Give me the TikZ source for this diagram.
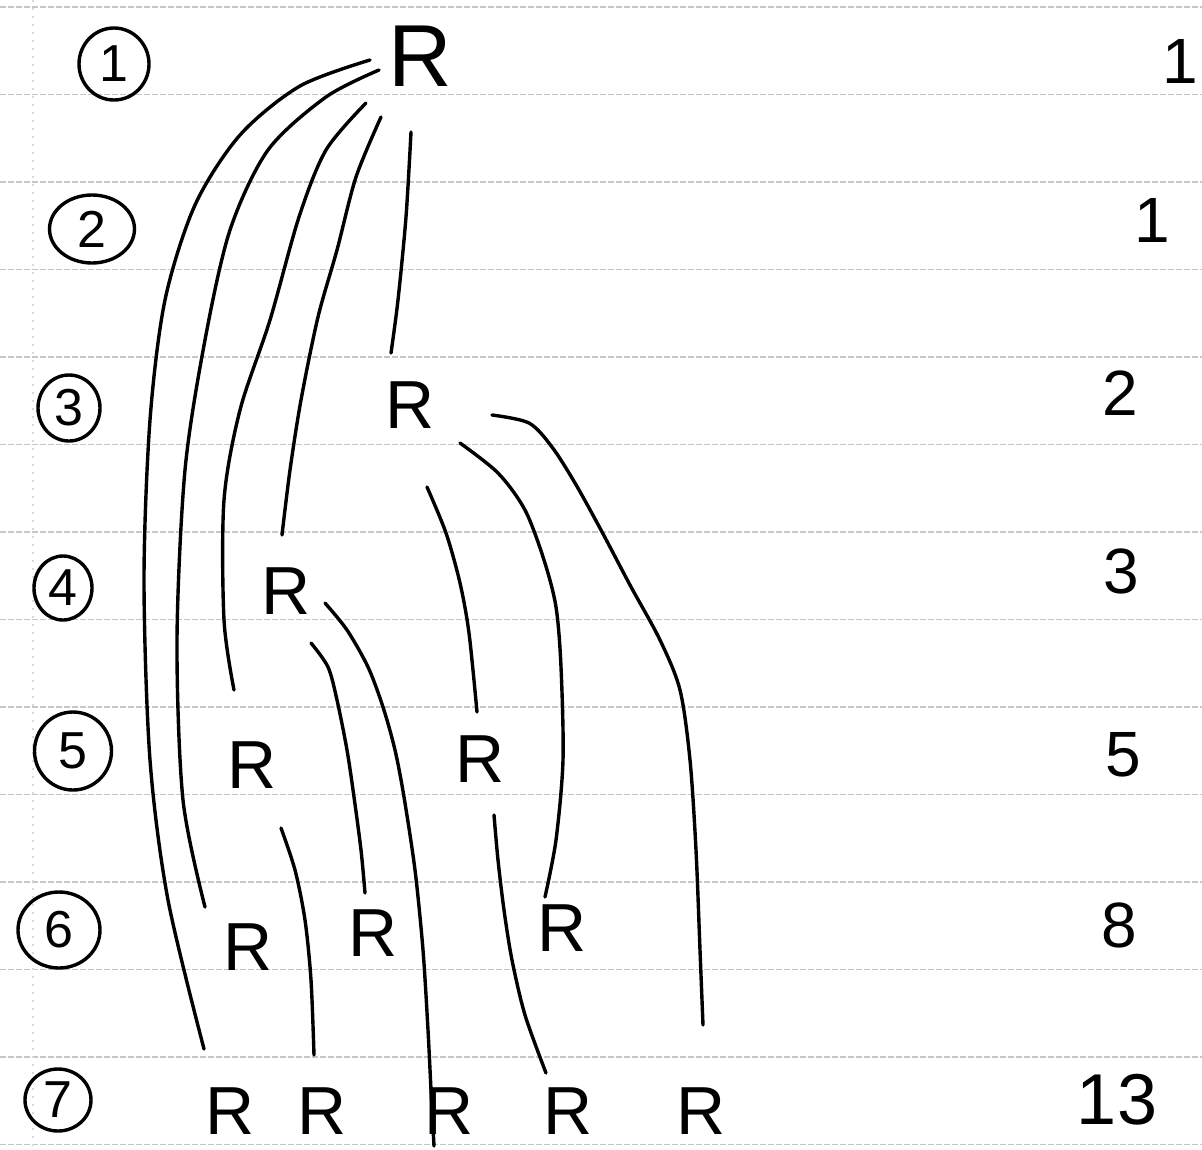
\documentclass[tikz,border=0pt]{standalone}
\usepackage{fontspec}
\setmainfont{Liberation Sans}
\usetikzlibrary{shapes.geometric}

\begin{document}
\begin{tikzpicture}[x=1pt,y=-1pt,
  rule/.style={gray!45, line width=1.2pt, dash pattern=on 6pt off 2pt},
  pen/.style={line width=3.4pt, line cap=round, line join=round},
  rabbit/.style={inner sep=0pt, font=\fontsize{68}{68}\selectfont},
  gen/.style={draw, pen, ellipse, inner sep=0pt, font=\fontsize{52}{52}\selectfont},
  count/.style={inner sep=0pt, font=\fontsize{64}{64}\selectfont}]
  \useasboundingbox (0,0) rectangle (1202,1149);
  \fill[white] (0,0) rectangle (1202,1149);
  % ruled paper
  \foreach \i in {0,...,13}
    \draw[rule] (0,7+87.5*\i) -- (1202,7+87.5*\i);
  \draw[gray!30, line width=1.2pt, dash pattern=on 2pt off 6pt] (33,0) -- (33,1149);

  % generations and totals
  \foreach \n/\x/\y/\w/\h in {1/114/64/70/72, 2/92/229/85/68, 3/69/408/62/66,
      4/63/588/58/64, 5/73/751/77/78, 6/59/930/82/76, 7/58/1100/66/62}
    \node[gen, minimum width=\w, minimum height=\h] (g\n) at (\x,\y) {\n};
  \foreach \n/\x/\y/\v in {1/1180/61/1, 2/1152/220/1, 3/1120/393/2,
      4/1121/571/3, 5/1123/755/5, 6/1119/925/8}
    \node[count] (t\n) at (\x,\y) {\v};
  \node[count, font=\fontsize{72}{72}\selectfont] (t7) at (1117,1100) {13};

  % rabbit pairs
  \node[rabbit, font=\fontsize{88}{88}\selectfont] (R1) at (420,56) {R};
  \node[rabbit] (R3) at (410,405) {R};
  \node[rabbit] (R4) at (286,591) {R};
  \node[rabbit] (R5a) at (252,765) {R};
  \node[rabbit] (R5b) at (480,759) {R};
  \node[rabbit] (R6a) at (248,947) {R};
  \node[rabbit] (R6b) at (373,933) {R};
  \node[rabbit] (R6c) at (562,928) {R};
  \foreach \n/\x in {a/230,b/322,c/449,d/568,e/701}
    \node[rabbit] (R7\n) at (\x,1111) {R};

  % offspring lines
  \draw[pen] plot[smooth] coordinates {([shift={(-50,4)}]R1.center) (300,86) (240,135)
    (195,205) (165,300) (150,420) (144,580) (150,760) (168,900) ([shift={(-26,-62)}]R7a.center)};
  \draw[pen] plot[smooth] coordinates {([shift={(-41,14)}]R1.center) (326,97) (268,150)
    (230,230) (205,340) (185,470) (177,640) (183,800) ([shift={(-43,-40)}]R6a.center)};
  \draw[pen] plot[smooth] coordinates {([shift={(-54,47)}]R1.center) (326,150) (299,217)
    (270,320) (240,410) (224,500) (224,620) ([shift={(-18,-75)}]R5a.center)};
  \draw[pen] plot[smooth] coordinates {([shift={(-39,61)}]R1.center) (356,177) (337,250)
    (318,317) (301,400) (290,470) ([shift={(-4,-56)}]R4.center)};
  \draw[pen] plot[smooth] coordinates {([shift={(-9,76)}]R1.center) (406,217) (398,300)
    ([shift={(-19,-52)}]R3.center)};
  \draw[pen] plot[smooth] coordinates {([shift={(82,10)}]R3.center) (529,423) (552,447)
    (575,483) (601,530) (630,585) (660,640) (680,690) (690,760) (696,850) (700,950)
    ([shift={(2,-86)}]R7e.center)};
  \draw[pen] plot[smooth] coordinates {([shift={(50,38)}]R3.center) (498,473) (525,510)
    (544,560) (556,607) (561,667) (563,760) (556,840) ([shift={(-17,-31)}]R6c.center)};
  \draw[pen] plot[smooth] coordinates {([shift={(17,82)}]R3.center) (446,533) (460,583)
    (469,633) ([shift={(-3,-47)}]R5b.center)};
  \draw[pen] plot[smooth] coordinates {([shift={(39,12)}]R4.center) (347,630) (368,667)
    (383,707) (395,750) (404,797) (415,870) (423,950) (428,1030) (431,1090)
    ([shift={(-15,35)}]R7c.center)};
  \draw[pen] plot[smooth] coordinates {([shift={(25,52)}]R4.center) (328,667) (337,700)
    (347,750) (354,797) (361,850) ([shift={(-8,-40)}]R6b.center)};
  \draw[pen] plot[smooth] coordinates {([shift={(29,63)}]R5a.center) (295,870) (305,920)
    (311,980) ([shift={(-8,-56)}]R7b.center)};
  \draw[pen] plot[smooth] coordinates {([shift={(14,56)}]R5b.center) (498,860) (504,910)
    (512,960) (525,1015) ([shift={(-22,-38)}]R7d.center)};
\end{tikzpicture}
\end{document}
